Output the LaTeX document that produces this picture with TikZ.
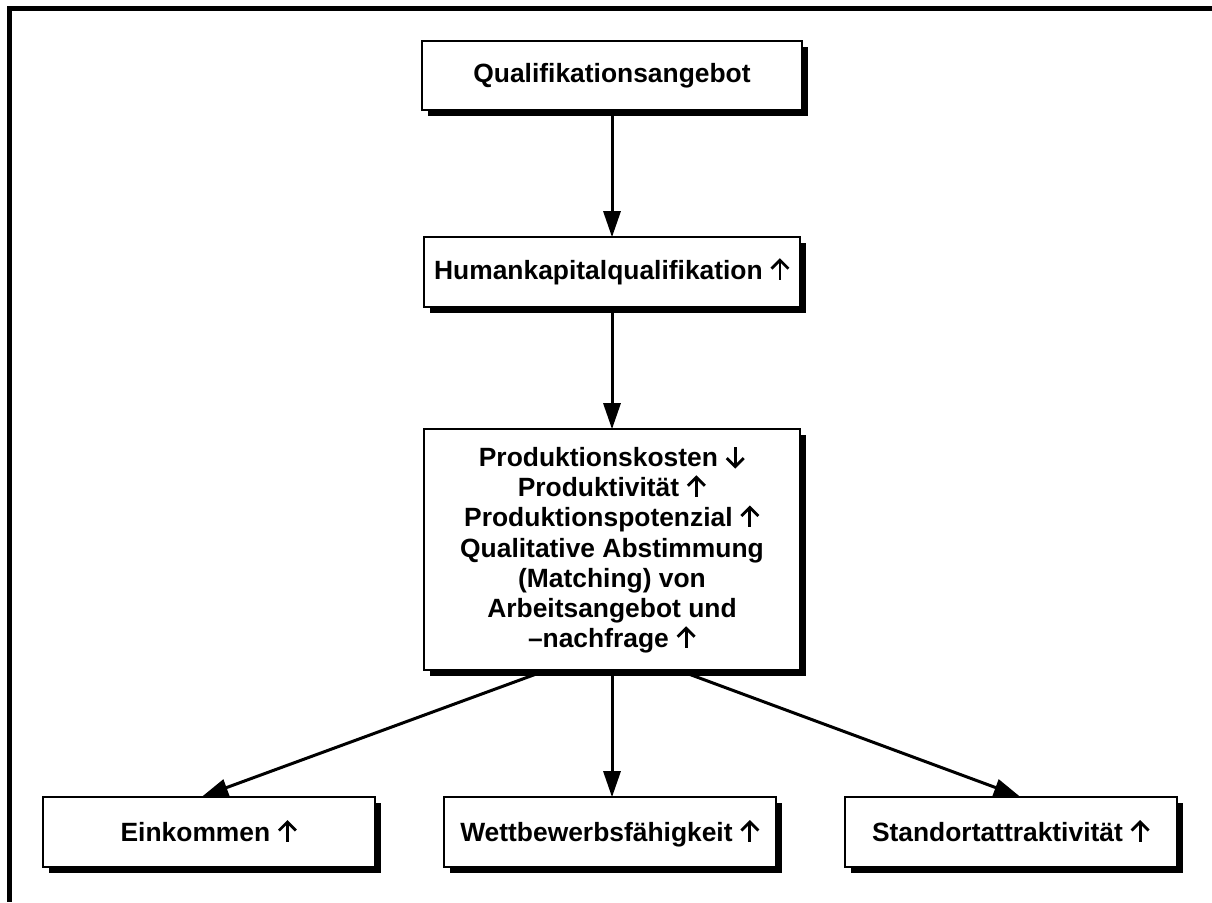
\documentclass[tikz,border=0pt]{standalone}
\usepackage{fontspec}
\setmainfont{Liberation Sans}
\usetikzlibrary{arrows.meta,shadows}
\newcommand{\arrup}{\tikz[x=1pt,y=1pt,baseline=0pt]{\draw[black,line width=2.8pt,line cap=butt] (0,0)--(0,19.5);\draw[black,line width=2.8pt,line join=miter,line cap=butt] (-8.5,11)--(0,19.5)--(8.5,11);}}
\newcommand{\arrdown}{\tikz[x=1pt,y=1pt,baseline=0pt]{\draw[black,line width=2.8pt,line cap=butt] (0,0)--(0,19.5);\draw[black,line width=2.8pt,line join=miter,line cap=butt] (-8.5,8.5)--(0,0)--(8.5,8.5);}}
\begin{document}
\begin{tikzpicture}[x=1pt,y=-1pt,
  box/.style={draw=black,line width=1.6pt,fill=white,
    drop shadow={shadow xshift=6pt,shadow yshift=-6pt,fill=black,opacity=1},
    font=\fontsize{26.4}{30.2}\selectfont\bfseries,align=center,inner sep=0pt},
  sbox/.style={box,minimum width=332pt,minimum height=70pt,text height=19pt,text depth=0pt},
  conn/.style={line width=3pt,-{Triangle[length=26pt,width=17pt]},shorten >=-1pt}]
\useasboundingbox (0,0) rectangle (1212,902);
% frame
\draw[line width=5pt] (1212,8.5) -- (9.5,8.5) -- (9.5,902);
% boxes
\node[box,minimum width=380pt,minimum height=69pt] (q) at (612,75.5) {Qualifikationsangebot};
\node[box,minimum width=376pt,minimum height=70pt] (h) at (612,272) {Humankapitalqualifikation \arrup};
\node[box,minimum width=376pt,minimum height=241pt] (p) at (612,549.5) {Produktionskosten \arrdown\\Produktivität \arrup\\Produktionspotenzial \arrup\\Qualitative Abstimmung\\(Matching) von\\Arbeitsangebot und\\–nachfrage \arrup};
\node[sbox] (e) at (209,832) {Einkommen \arrup};
\node[sbox] (w) at (610,832) {Wettbewerbsfähigkeit \arrup};
\node[sbox] (s) at (1011,832) {Standortattraktivität \arrup};
% connectors
\draw[conn] (q.south) -- (h.north);
\draw[conn] (h.south) -- (p.north);
\draw[conn] ([xshift=-67pt]p.south) -- ([xshift=-6pt]e.north);
\draw[conn] (p.south) -- ([xshift=2pt]w.north);
\draw[conn] ([xshift=68pt]p.south) -- ([xshift=8pt]s.north);
\end{tikzpicture}
\end{document}
